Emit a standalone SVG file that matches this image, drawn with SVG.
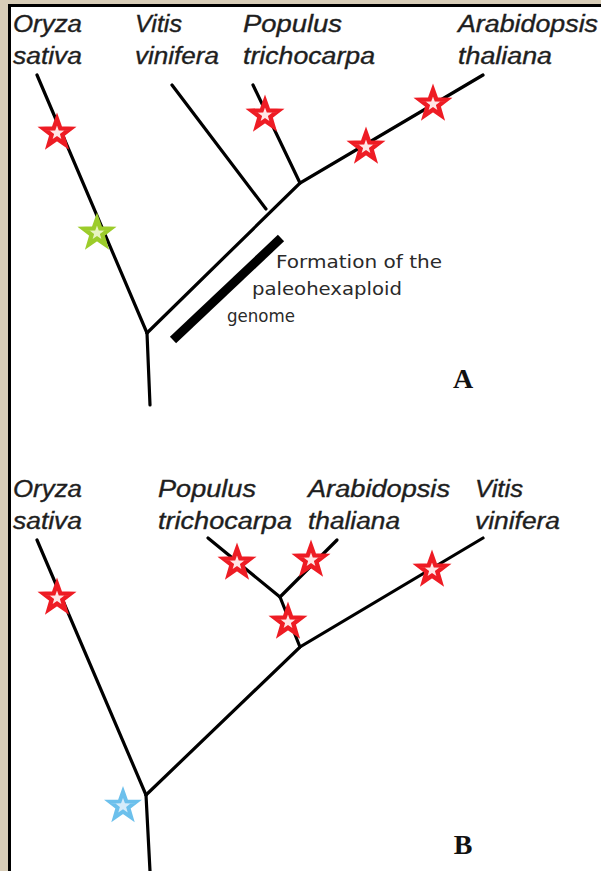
<svg xmlns="http://www.w3.org/2000/svg" xmlns:xlink="http://www.w3.org/1999/xlink" width="601" height="871" viewBox="0 0 601 871">
<defs>
<style>
.lbl{font-family:"Liberation Sans",Arial,sans-serif;font-style:italic;font-size:23px;fill:#1e1e1e;stroke:#1e1e1e;stroke-width:0.35;}
.note{font-family:"DejaVu Sans","Liberation Sans",sans-serif;font-size:17.5px;fill:#2a2a2a;}
.pl{font-family:"Liberation Serif","Times New Roman",serif;font-weight:bold;font-size:28px;fill:#111;}
.br{stroke:#000;stroke-width:3.2;fill:none;stroke-linecap:round;}
.red{fill:#ffe6e6;stroke:#ee1c24;stroke-width:4.4;stroke-linejoin:miter;}
.grn{fill:#e8f4c0;stroke:#9ccc2a;stroke-width:4.4;stroke-linejoin:miter;}
.blu{fill:#d6ecfa;stroke:#6cc0ec;stroke-width:4;stroke-linejoin:miter;}
</style>
<path id="star" d="M0,-14 L3.35,-4.61 L13.31,-4.33 L5.42,1.76 L8.23,11.33 L0,5.7 L-8.23,11.33 L-5.42,1.76 L-13.31,-4.33 L-3.35,-4.61 Z"/>
</defs>
<rect x="0" y="0" width="601" height="871" fill="#d8cdb8"/>
<rect x="9.5" y="5.5" width="600" height="875" fill="#fff" stroke="#000" stroke-width="3"/>

<g id="connectors">
<g id="tree-a">
<line class="br" x1="37" y1="75" x2="147" y2="333"/>
<line class="br" x1="147" y1="333" x2="150" y2="405"/>
<polyline class="br" points="147,333 300,183 483,75"/>
<line class="br" x1="172" y1="85" x2="266" y2="209"/>
<line class="br" x1="253" y1="85" x2="300" y2="183"/>
<line x1="173" y1="340" x2="281" y2="238" stroke="#000" stroke-width="9"/>
</g>
<g id="tree-b">
<line class="br" x1="37" y1="540" x2="146" y2="795"/>
<line class="br" x1="146" y1="795" x2="150" y2="871"/>
<polyline class="br" points="146,795 300,647 483,538"/>
<line class="br" x1="300" y1="647" x2="280" y2="597"/>
<line class="br" x1="280" y1="597" x2="208" y2="538"/>
<line class="br" x1="280" y1="597" x2="337" y2="540"/>
</g>
</g>

<g id="events-a">
<use xlink:href="#star" class="red" x="57" y="133"/>
<use xlink:href="#star" class="red" x="265" y="115"/>
<use xlink:href="#star" class="red" x="366" y="147"/>
<use xlink:href="#star" class="red" x="433" y="104"/>
<use xlink:href="#star" class="grn" x="97" y="233"/>
</g>
<g id="events-b">
<use xlink:href="#star" class="red" x="57" y="598"/>
<use xlink:href="#star" class="red" x="237" y="563"/>
<use xlink:href="#star" class="red" x="311" y="560"/>
<use xlink:href="#star" class="red" x="288" y="622"/>
<use xlink:href="#star" class="red" x="432" y="570"/>
<use xlink:href="#star" class="blu" x="123" y="806"/>
</g>

<g id="a-oryza"><text class="lbl" x="13" y="32" textLength="69" lengthAdjust="spacingAndGlyphs">Oryza</text><text class="lbl" x="13" y="64" textLength="69" lengthAdjust="spacingAndGlyphs">sativa</text></g>
<g id="a-vitis"><text class="lbl" x="135" y="32" textLength="47" lengthAdjust="spacingAndGlyphs">Vitis</text><text class="lbl" x="135" y="64" textLength="84" lengthAdjust="spacingAndGlyphs">vinifera</text></g>
<g id="a-populus"><text class="lbl" x="243" y="32" textLength="99" lengthAdjust="spacingAndGlyphs">Populus</text><text class="lbl" x="243" y="64" textLength="132" lengthAdjust="spacingAndGlyphs">trichocarpa</text></g>
<g id="a-arabidopsis"><text class="lbl" x="458" y="32" textLength="140" lengthAdjust="spacingAndGlyphs">Arabidopsis</text><text class="lbl" x="458" y="64" textLength="94" lengthAdjust="spacingAndGlyphs">thaliana</text></g>
<g id="a-note"><text class="note" x="276" y="268" textLength="166" lengthAdjust="spacingAndGlyphs">Formation of the</text><text class="note" x="252" y="295" textLength="150" lengthAdjust="spacingAndGlyphs">paleohexaploid</text><text class="note" x="227" y="322" textLength="68" lengthAdjust="spacingAndGlyphs">genome</text></g>
<g id="a-label"><text class="pl" x="463" y="388" text-anchor="middle">A</text></g>

<g id="b-oryza"><text class="lbl" x="13" y="497" textLength="69" lengthAdjust="spacingAndGlyphs">Oryza</text><text class="lbl" x="13" y="529" textLength="69" lengthAdjust="spacingAndGlyphs">sativa</text></g>
<g id="b-populus"><text class="lbl" x="158" y="497" textLength="98" lengthAdjust="spacingAndGlyphs">Populus</text><text class="lbl" x="158" y="529" textLength="134" lengthAdjust="spacingAndGlyphs">trichocarpa</text></g>
<g id="b-arabidopsis"><text class="lbl" x="308" y="497" textLength="142" lengthAdjust="spacingAndGlyphs">Arabidopsis</text><text class="lbl" x="308" y="529" textLength="92" lengthAdjust="spacingAndGlyphs">thaliana</text></g>
<g id="b-vitis"><text class="lbl" x="475" y="497" textLength="48" lengthAdjust="spacingAndGlyphs">Vitis</text><text class="lbl" x="475" y="529" textLength="85" lengthAdjust="spacingAndGlyphs">vinifera</text></g>
<g id="b-label"><text class="pl" x="463" y="854" text-anchor="middle">B</text></g>
</svg>
